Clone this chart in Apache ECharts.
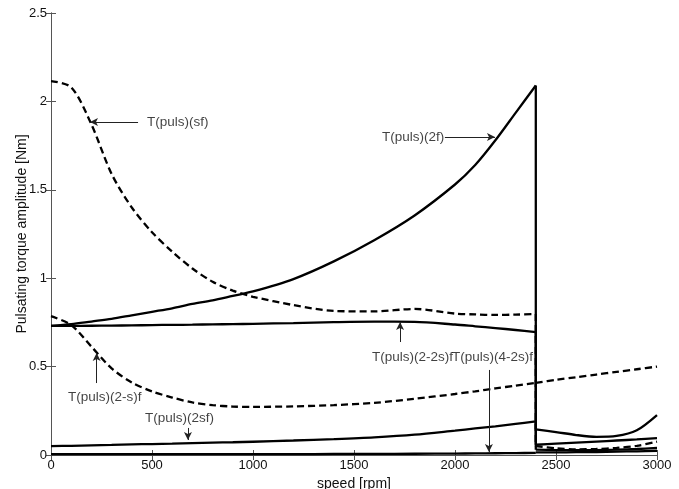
<!DOCTYPE html>
<html>
<head>
<meta charset="utf-8">
<script src="https://cdn.jsdelivr.net/npm/echarts@6/dist/echarts.min.js"></script>
<style>
html,body{margin:0;padding:0;background:#fff;}
#chart{width:679px;height:489px;}
</style>
</head>
<body>
<div id="chart"></div>
<script>
// speed samples [rpm] (2400 repeated: discontinuity)
const speed = [0,100,200,300,400,500,600,700,800,900,1000,1200,1400,1600,1800,2000,2100,2200,2300,2400,2400,2500,2600,2700,2800,2900,3000];

const T_sf   = [2.115,2.08,1.87,1.59,1.40,1.26,1.15,1.055,0.98,0.93,0.895,0.848,0.815,0.812,0.826,0.80,0.795,0.792,0.794,0.797,0.05,0.038,0.032,0.034,0.04,0.052,0.075];
const T_2f   = [0.73,0.74,0.755,0.77,0.79,0.81,0.83,0.855,0.875,0.90,0.925,0.995,1.095,1.215,1.355,1.53,1.64,1.78,1.935,2.09,0.145,0.13,0.113,0.103,0.108,0.14,0.226];
const T_22s  = [0.73,0.73,0.731,0.732,0.733,0.735,0.736,0.737,0.739,0.74,0.742,0.746,0.751,0.754,0.753,0.738,0.728,0.718,0.707,0.695,0.058,0.064,0.07,0.076,0.082,0.088,0.095];
const T_2s   = [0.785,0.735,0.613,0.49,0.41,0.36,0.325,0.297,0.282,0.274,0.272,0.275,0.282,0.295,0.318,0.345,0.36,0.377,0.392,0.408,0.408,0.425,0.44,0.455,0.47,0.485,0.5];
const T_2sf  = [0.05,0.052,0.055,0.057,0.06,0.062,0.064,0.067,0.07,0.072,0.075,0.082,0.09,0.1,0.115,0.138,0.15,0.162,0.176,0.19,0.03,0.028,0.027,0.028,0.03,0.034,0.04];
const T_42s  = [0.005,0.005,0.005,0.005,0.005,0.005,0.005,0.005,0.005,0.005,0.005,0.005,0.006,0.006,0.007,0.008,0.009,0.01,0.011,0.012,0.015,0.015,0.016,0.017,0.019,0.021,0.024];

const xTicks = [0,500,1000,1500,2000,2500,3000];
const yTicks = ['0','0.5','1','1.5','2','2.5'];

// annotation texts: [speed, amplitude, text]
const annText = [
  [475, 1.883, 'T(puls)(sf)'],
  [1639, 1.799, 'T(puls)(2f)'],
  [84, 0.328, 'T(puls)(2-s)f'],
  [465, 0.209, 'T(puls)(2sf)'],
  [1589, 0.554, 'T(puls)(2-2s)f'],
  [1985, 0.554, 'T(puls)(4-2s)f']
];
// annotation arrows: [fromSpeed, fromAmp, toSpeed, toAmp]
const annArrows = [
  [431, 1.883, 193, 1.883],
  [1950, 1.799, 2198, 1.799],
  [226, 0.407, 226, 0.577],
  [678, 0.153, 678, 0.085],
  [1728, 0.639, 1728, 0.752],
  [2168, 0.481, 2168, 0.017]
];

const FONT = 'Liberation Sans, Arial, Helvetica, sans-serif';
// split index: the repeated 2400 sample marks the jump
const JUMP = speed.indexOf(2400);

function curveSeries(name, ys, dashed) {
  const style = { color: '#000', width: 2.3, type: dashed ? [7, 4] : 'solid' };
  const base = { type: 'line', showSymbol: false, symbol: 'none', animation: false, silent: true, lineStyle: style };
  const pts = speed.map((s, i) => [s, ys[i]]);
  return [
    Object.assign({ name: name, data: pts.slice(0, JUMP + 1), smooth: 0.3 }, base),
    Object.assign({ name: name, data: pts.slice(JUMP, JUMP + 2), smooth: false }, base),
    Object.assign({ name: name, data: pts.slice(JUMP + 1), smooth: 0.3 }, base)
  ];
}

const chart = echarts.init(document.getElementById('chart'), null, { renderer: 'canvas' });
const axisLineStyle = { color: '#555', width: 1 };
chart.setOption({
  backgroundColor: '#fff',
  animation: false,
  grid: { left: 51, right: 22, top: 13, bottom: 34, containLabel: false, outerBoundsMode: 'none' },
  xAxis: [
    {
      type: 'value', min: 0, max: 3000, interval: 500, position: 'bottom',
      name: 'speed [rpm]', nameLocation: 'middle', nameGap: 22, nameMoveOverlap: false,
      nameTextStyle: { fontFamily: FONT, fontSize: 14, color: '#111' },
      axisLine: { show: true, lineStyle: axisLineStyle },
      axisTick: { show: true, inside: true, length: 5, lineStyle: axisLineStyle },
      axisLabel: { fontFamily: FONT, fontSize: 13, color: '#111', margin: 4,
        formatter: v => xTicks.indexOf(v) >= 0 ? String(v) : '' },
      splitLine: { show: false }
    },
    {
      type: 'value', min: 0, max: 3000, interval: 500, position: 'top',
      axisLine: { show: true, lineStyle: axisLineStyle },
      axisTick: { show: true, inside: true, length: 5, lineStyle: axisLineStyle },
      axisLabel: { show: false }, splitLine: { show: false }
    }
  ],
  yAxis: [
    {
      type: 'value', min: 0, max: 2.5, interval: 0.5, position: 'left',
      name: 'Pulsating torque amplitude [Nm]', nameLocation: 'middle', nameGap: 22, nameMoveOverlap: false,
      nameTextStyle: { fontFamily: FONT, fontSize: 14, color: '#111' },
      axisLine: { show: true, lineStyle: axisLineStyle },
      axisTick: { show: true, inside: true, length: 5, lineStyle: axisLineStyle },
      axisLabel: { fontFamily: FONT, fontSize: 13, color: '#111', margin: 4,
        formatter: v => yTicks[Math.round(v / 0.5)] },
      splitLine: { show: false }
    },
    {
      type: 'value', min: 0, max: 2.5, interval: 0.5, position: 'right',
      axisLine: { show: true, lineStyle: axisLineStyle },
      axisTick: { show: true, inside: true, length: 5, lineStyle: axisLineStyle },
      axisLabel: { show: false }, splitLine: { show: false }
    }
  ],
  series: [].concat(
    curveSeries('T(puls)(sf)', T_sf, true),
    curveSeries('T(puls)(2f)', T_2f, false),
    curveSeries('T(puls)(2-2s)f', T_22s, false),
    curveSeries('T(puls)(2-s)f', T_2s, true),
    curveSeries('T(puls)(2sf)', T_2sf, false),
    curveSeries('T(puls)(4-2s)f', T_42s, false),
    [{
      type: 'scatter', symbolSize: 0, silent: true, animation: false,
      data: annText.map(a => ({ value: [a[0], a[1]], name: a[2] })),
      label: { show: true, position: 'inside', align: 'left', verticalAlign: 'middle',
        formatter: p => p.name, fontFamily: FONT, fontSize: 13.5, color: '#111' },
      markLine: {
        silent: true, animation: false, symbol: ['none', 'arrow'], symbolSize: [6, 8],
        label: { show: false },
        lineStyle: { color: '#222', width: 1, type: 'solid' },
        data: annArrows.map(a => [{ coord: [a[0], a[1]] }, { coord: [a[2], a[3]] }])
      }
    }]
  )
});
</script>
</body>
</html>
